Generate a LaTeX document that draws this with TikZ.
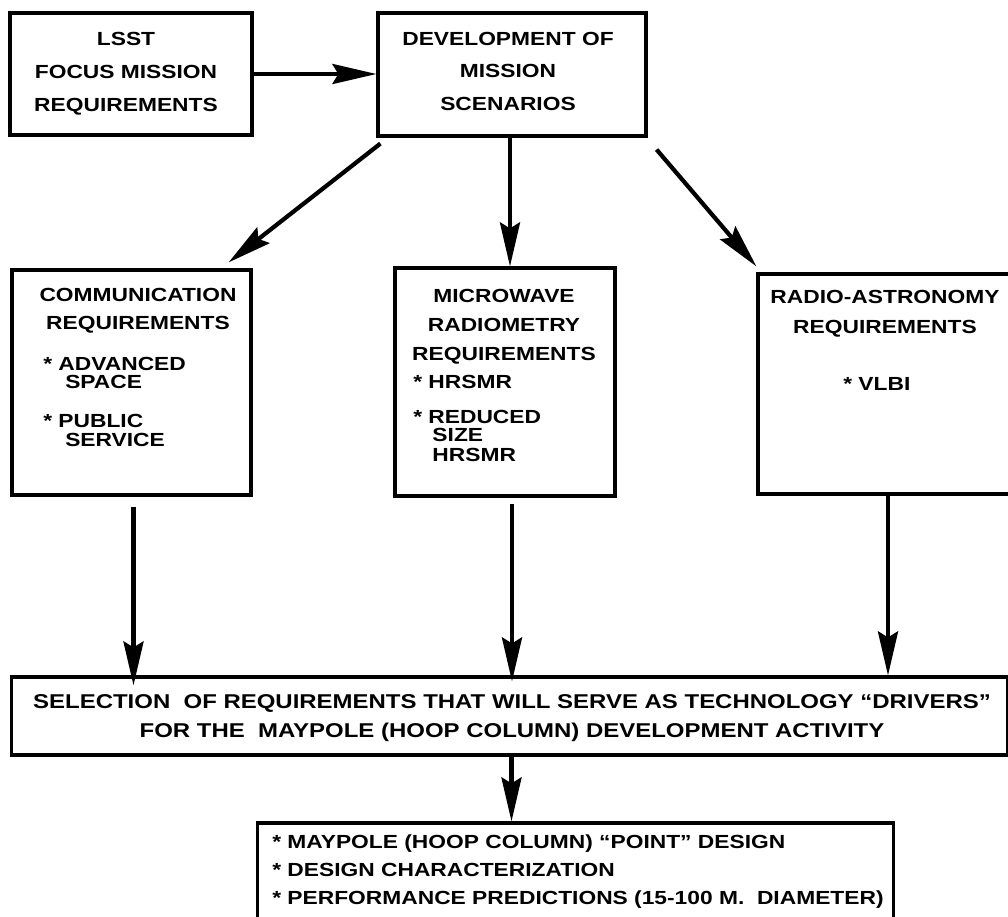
\documentclass[tikz,border=0pt]{standalone}
\usepackage{fontspec}
\setmainfont{Liberation Sans}[FakeStretch=1.2]
\usetikzlibrary{arrows.meta}
\newcommand{\lettering}{\bfseries\fontsize{13.5}{13}\selectfont}
\newcommand{\wideletters}{\bfseries\fontsize{14.2}{13}\selectfont}
\tikzstyle{box} = [rectangle, draw=black, line width=2.2pt, inner sep=0pt]
\tikzstyle{heading} = [inner sep=0pt, align=center, anchor=north, font=\lettering]
\tikzstyle{items} = [inner sep=0pt, align=left, anchor=north west, font=\lettering]
\tikzstyle{arrow} = [line width=3pt, -{Stealth[length=1.1cm, width=0.5cm, inset=0.15cm]}]

\begin{document}
\begin{tikzpicture}[x=0.025cm, y=-0.025cm]
                \useasboundingbox (0,0) rectangle (1008,916);
                % boxes
                \node (lsst) [box, minimum width=6.05cm, minimum height=3.05cm] at (131,74) {};
                \node (dev) [box, minimum width=6.7cm, minimum height=3.075cm] at (512,74.5) {};
                \node (comm) [box, minimum width=5.975cm, minimum height=5.625cm] at (131.5,382.5) {};
                \node (micro) [box, minimum width=5.5cm, minimum height=5.7cm] at (505,382) {};
                \node (radio) [box, minimum width=6.35cm, minimum height=5.5cm] at (885,384) {};
                \node (sel) [box, minimum width=24.875cm, minimum height=1.95cm] at (509.5,716) {};
                \node (design) [box, minimum width=15.875cm, minimum height=2.675cm] at (575.5,876.5) {};

                % texts
                \node (lssttext) [heading] at (126,32) {LSST\\[10.5pt]FOCUS MISSION\\[10.5pt]REQUIREMENTS};
                \node (devtext) [heading] at (508,32) {DEVELOPMENT OF\\[10pt]MISSION\\[10pt]SCENARIOS};
                \node (commtext) [heading] at (138,288) {COMMUNICATION\\[7pt]REQUIREMENTS};
                \node (commlist) [items] at (43,357) {* ADVANCED\\\hspace*{0.55cm}SPACE\\[14.7pt]* PUBLIC\\\hspace*{0.55cm}SERVICE};
                \node (microtext) [heading] at (504,289) {MICROWAVE\\[7.6pt]RADIOMETRY\\[7.6pt]REQUIREMENTS};
                \node (microlist) [items] at (413,375) {* HRSMR\\[12pt]* REDUCED\\\hspace*{0.48cm}SIZE\\[1.2pt]\hspace*{0.48cm}HRSMR};
                \node (radiotext) [heading] at (885,290) {RADIO-ASTRONOMY\\[8.3pt]REQUIREMENTS};
                \node (radiolist) [items] at (843,377) {* VLBI};
                \node (seltext) [heading, font=\wideletters] at (512,694) {SELECTION~ OF REQUIREMENTS THAT WILL SERVE AS TECHNOLOGY ``DRIVERS''\\[6.5pt]FOR THE~ MAYPOLE (HOOP COLUMN) DEVELOPMENT ACTIVITY};
                \node (designlist) [items] at (272,834) {* MAYPOLE (HOOP COLUMN) ``POINT'' DESIGN\\[7pt]* DESIGN CHARACTERIZATION\\[7pt]* PERFORMANCE PREDICTIONS (15-100 M.~ DIAMETER)};

                % arrows
                \draw [arrow] (lsst.east) -- (lsst.east -| dev.west);
                \draw [arrow] ([shift={(4,6)}]dev.south west) -- ([shift={(-24,-6)}]comm.north east);
                \draw [arrow] ([shift={(-2,0)}]dev.south) -- ([shift={(-2,0)}]dev.south |- micro.north);
                \draw [arrow] ([shift={(9,12)}]dev.south east) -- ([shift={(0,-6)}]radio.north west);
                \draw [arrow] ([shift={(2,10)}]comm.south) -- ([shift={(2,10)}]comm.south |- sel.north);
                \draw [arrow] ([shift={(7,6)}]micro.south) -- ([shift={(7,6)}]micro.south |- sel.north);
                \draw [arrow] ([shift={(3,0)}]radio.south) -- ([shift={(3,0)}]radio.south |- sel.north);
                \draw [arrow] ([shift={(2,0)}]sel.south) -- ([shift={(2,0)}]sel.south |- design.north);
\end{tikzpicture}
\end{document}
